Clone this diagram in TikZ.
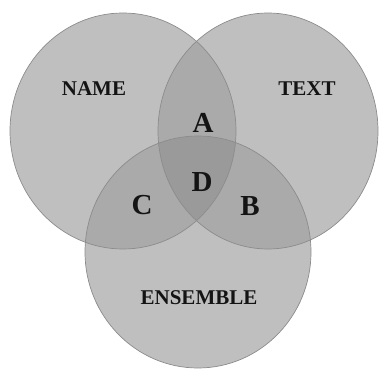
\documentclass[tikz,border=0pt]{standalone}
\usepackage{fontspec}
\setmainfont{Liberation Serif}
\begin{document}
\begin{tikzpicture}[x=1pt,y=-1pt]
\definecolor{one}{gray}{0.75}
\definecolor{two}{gray}{0.665}
\definecolor{three}{gray}{0.605}
\definecolor{rim}{gray}{0.55}
\definecolor{ink}{gray}{0.08}
\tikzset{
  rimline/.style={draw=rim, line width=0.7pt},
  biglab/.style={font=\bfseries\fontsize{21}{21}\selectfont, text=ink, inner sep=0pt},
  reglab/.style={font=\bfseries\fontsize{29}{29}\selectfont, text=ink, inner sep=0pt}
}
\useasboundingbox (0,0) rectangle (381,371);
\def\NameC{(123,131) ellipse [x radius=113pt, y radius=118pt]}
\def\TextC{(268,131) ellipse [x radius=110pt, y radius=118pt]}
\def\EnsC{(198,252) ellipse [x radius=113pt, y radius=116pt]}
\fill[one] \NameC;
\fill[one] \TextC;
\fill[one] \EnsC;
\begin{scope}
  \clip \NameC;
  \fill[two] \TextC;
  \fill[two] \EnsC;
\end{scope}
\begin{scope}
  \clip \TextC;
  \fill[two] \EnsC;
\end{scope}
\begin{scope}
  \clip \NameC;
  \clip \TextC;
  \fill[three] \EnsC;
\end{scope}
\path[rimline] \NameC;
\path[rimline] \TextC;
\path[rimline] \EnsC;
\node[biglab] (name) at (94,89) {NAME};
\node[biglab] (text) at (307,89) {TEXT};
\node[biglab] (ens) at (199,298) {ENSEMBLE};
\node[reglab] (a) at (203,123) {A};
\node[reglab] (d) at (202,182) {D};
\node[reglab] (c) at (142,205) {C};
\node[reglab] (b) at (250,206) {B};
\end{tikzpicture}
\end{document}
